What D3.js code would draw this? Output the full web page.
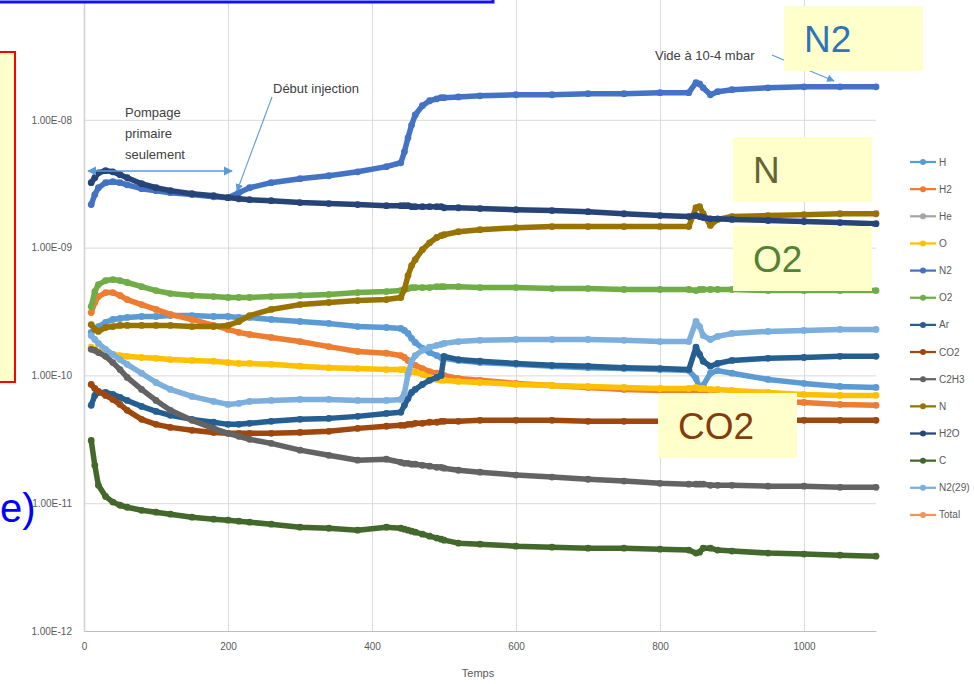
<!DOCTYPE html>
<html>
<head>
<meta charset="utf-8">
<script src="https://cdn.jsdelivr.net/npm/d3@7"></script>
<style>
  html, body { margin: 0; padding: 0; background: #fff; }
  svg { display: block; font-family: "Liberation Sans", Arial, sans-serif; }
</style>
</head>
<body>
<svg id="chart" width="974" height="684"></svg>
<script>
// time axis (s) shared by all series
const temps = [10, 15, 20, 30, 40, 50, 60, 80, 100, 120, 150, 180, 200, 215, 230, 260, 300, 340, 380, 420,
  440, 445, 450, 455, 460, 470, 480, 490, 496, 500, 520, 550, 600, 650, 700, 750, 800, 840, 850, 855,
  860, 870, 880, 900, 950, 1000, 1050, 1100];

const seriesNames = ['H', 'H2', 'He', 'O', 'N2', 'O2', 'Ar', 'CO2', 'C2H3', 'N', 'H2O', 'C', 'N2(29)', 'Total'];
const seriesColors = ['#5B9BD5', '#ED7D31', '#A5A5A5', '#FFC000', '#4472C4', '#70AD47', '#255E91',
  '#9E480E', '#636363', '#997300', '#264478', '#43682B', '#7CAFDD', '#F1975A'];

const H = [2.17e-10, 2.29e-10, 2.41e-10, 2.6e-10, 2.74e-10, 2.79e-10, 2.84e-10, 2.89e-10, 2.89e-10, 2.94e-10,
  2.94e-10, 2.89e-10, 2.89e-10, 2.84e-10, 2.84e-10, 2.74e-10, 2.64e-10, 2.55e-10, 2.41e-10, 2.37e-10,
  2.33e-10, 2.25e-10, 2.13e-10, 1.95e-10, 1.81e-10, 1.63e-10, 1.51e-10, 1.43e-10, 1.38e-10, 1.36e-10,
  1.31e-10, 1.26e-10, 1.22e-10, 1.18e-10, 1.15e-10, 1.13e-10, 1.11e-10, 1.09e-10, 9.47e-11, 7.9e-11,
  8.35e-11, 1.04e-10, 1.09e-10, 1.04e-10, 9.3e-11, 8.66e-11, 8.2e-11, 8.05e-11];
const H2 = [3.1e-10, 3.72e-10, 4.14e-10, 4.45e-10, 4.45e-10, 4.22e-10, 3.92e-10, 3.58e-10, 3.28e-10, 3.0e-10,
  2.74e-10, 2.46e-10, 2.29e-10, 2.17e-10, 2.09e-10, 1.98e-10, 1.84e-10, 1.68e-10, 1.54e-10, 1.49e-10,
  1.43e-10, 1.38e-10, 1.31e-10, 1.24e-10, 1.2e-10, 1.13e-10, 1.07e-10, 1.04e-10, 1.02e-10, 1.0e-10,
  9.47e-11, 9.15e-11, 8.66e-11, 8.35e-11, 8.05e-11, 7.77e-11, 7.63e-11, 7.5e-11, 7.5e-11, 7.36e-11,
  7.23e-11, 7.1e-11, 6.97e-11, 6.73e-11, 6.37e-11, 6.15e-11, 5.93e-11, 5.83e-11];
const He = [];
const O = [1.66e-10, 1.6e-10, 1.54e-10, 1.49e-10, 1.46e-10, 1.43e-10, 1.41e-10, 1.38e-10, 1.36e-10, 1.33e-10,
  1.31e-10, 1.29e-10, 1.26e-10, 1.24e-10, 1.24e-10, 1.22e-10, 1.18e-10, 1.15e-10, 1.13e-10, 1.11e-10,
  1.11e-10, 1.11e-10, 1.09e-10, 1.07e-10, 1.06e-10, 1.02e-10, 9.64e-11, 9.3e-11, 9.15e-11, 9.15e-11,
  8.97e-11, 8.8e-11, 8.5e-11, 8.35e-11, 8.2e-11, 8.05e-11, 7.9e-11, 7.9e-11, 8.05e-11, 7.9e-11,
  7.9e-11, 7.77e-11, 7.77e-11, 7.63e-11, 7.36e-11, 7.1e-11, 6.97e-11, 6.97e-11];
const N2 = [2.17e-9, 2.6e-9, 2.94e-9, 3.22e-9, 3.28e-9, 3.22e-9, 3.1e-9, 2.89e-9, 2.79e-9, 2.69e-9,
  2.6e-9, 2.5e-9, 2.46e-9, 2.69e-9, 2.94e-9, 3.22e-9, 3.46e-9, 3.65e-9, 3.92e-9, 4.3e-9,
  4.61e-9, 5.62e-9, 7.23e-9, 9.1e-9, 1.09e-8, 1.29e-8, 1.41e-8, 1.46e-8, 1.49e-8, 1.49e-8,
  1.51e-8, 1.54e-8, 1.57e-8, 1.57e-8, 1.6e-8, 1.6e-8, 1.63e-8, 1.63e-8, 1.95e-8, 1.91e-8,
  1.78e-8, 1.57e-8, 1.66e-8, 1.72e-8, 1.78e-8, 1.81e-8, 1.81e-8, 1.81e-8];
const O2 = [3.46e-10, 4.53e-10, 5.14e-10, 5.52e-10, 5.62e-10, 5.52e-10, 5.33e-10, 4.95e-10, 4.61e-10, 4.37e-10,
  4.22e-10, 4.14e-10, 4.07e-10, 4.07e-10, 4.07e-10, 4.14e-10, 4.22e-10, 4.3e-10, 4.45e-10, 4.53e-10,
  4.61e-10, 4.7e-10, 4.78e-10, 4.87e-10, 4.87e-10, 4.87e-10, 4.87e-10, 4.95e-10, 4.95e-10, 4.95e-10,
  4.95e-10, 4.87e-10, 4.87e-10, 4.78e-10, 4.78e-10, 4.7e-10, 4.7e-10, 4.7e-10, 4.61e-10, 4.7e-10,
  4.7e-10, 4.7e-10, 4.7e-10, 4.7e-10, 4.61e-10, 4.61e-10, 4.61e-10, 4.61e-10];
const Ar = [5.83e-11, 6.97e-11, 7.36e-11, 7.36e-11, 7.1e-11, 6.73e-11, 6.37e-11, 5.72e-11, 5.23e-11, 4.87e-11,
  4.53e-11, 4.3e-11, 4.14e-11, 4.14e-11, 4.22e-11, 4.37e-11, 4.53e-11, 4.61e-11, 4.78e-11, 5.04e-11,
  5.14e-11, 5.83e-11, 6.6e-11, 7.36e-11, 7.77e-11, 8.5e-11, 9.15e-11, 9.64e-11, 1.0e-10, 1.41e-10,
  1.33e-10, 1.29e-10, 1.24e-10, 1.2e-10, 1.18e-10, 1.15e-10, 1.13e-10, 1.11e-10, 1.66e-10, 1.46e-10,
  1.29e-10, 1.18e-10, 1.24e-10, 1.31e-10, 1.36e-10, 1.38e-10, 1.41e-10, 1.41e-10];
const CO2 = [8.5e-11, 7.9e-11, 7.5e-11, 6.97e-11, 6.49e-11, 5.93e-11, 5.33e-11, 4.53e-11, 4.14e-11, 3.92e-11,
  3.72e-11, 3.58e-11, 3.52e-11, 3.52e-11, 3.52e-11, 3.52e-11, 3.58e-11, 3.65e-11, 3.85e-11, 4.0e-11,
  4.07e-11, 4.07e-11, 4.14e-11, 4.14e-11, 4.22e-11, 4.22e-11, 4.3e-11, 4.3e-11, 4.37e-11, 4.37e-11,
  4.37e-11, 4.45e-11, 4.45e-11, 4.45e-11, 4.37e-11, 4.37e-11, 4.37e-11, 4.37e-11, 4.45e-11, 4.45e-11,
  4.45e-11, 4.45e-11, 4.45e-11, 4.45e-11, 4.45e-11, 4.45e-11, 4.45e-11, 4.45e-11];
const C2H3 = [1.6e-10, 1.57e-10, 1.51e-10, 1.41e-10, 1.26e-10, 1.11e-10, 9.64e-11, 7.77e-11, 6.37e-11, 5.33e-11,
  4.45e-11, 3.85e-11, 3.52e-11, 3.34e-11, 3.16e-11, 2.94e-11, 2.6e-11, 2.37e-11, 2.17e-11, 2.21e-11,
  2.09e-11, 2.05e-11, 2.05e-11, 2.02e-11, 2.02e-11, 1.98e-11, 1.95e-11, 1.91e-11, 1.91e-11, 1.88e-11,
  1.81e-11, 1.75e-11, 1.66e-11, 1.6e-11, 1.54e-11, 1.49e-11, 1.43e-11, 1.41e-11, 1.41e-11, 1.41e-11,
  1.41e-11, 1.38e-11, 1.38e-11, 1.38e-11, 1.36e-11, 1.36e-11, 1.33e-11, 1.33e-11];
const N = [2.5e-10, 2.29e-10, 2.21e-10, 2.37e-10, 2.41e-10, 2.46e-10, 2.46e-10, 2.46e-10, 2.46e-10, 2.46e-10,
  2.41e-10, 2.41e-10, 2.46e-10, 2.64e-10, 2.94e-10, 3.28e-10, 3.58e-10, 3.72e-10, 3.85e-10, 3.92e-10,
  4.07e-10, 4.7e-10, 6.04e-10, 7.23e-10, 8.05e-10, 9.64e-10, 1.09e-9, 1.2e-9, 1.24e-9, 1.26e-9,
  1.33e-9, 1.38e-9, 1.43e-9, 1.46e-9, 1.46e-9, 1.46e-9, 1.46e-9, 1.46e-9, 2.05e-9, 2.09e-9,
  1.84e-9, 1.49e-9, 1.66e-9, 1.75e-9, 1.78e-9, 1.81e-9, 1.84e-9, 1.84e-9];
const H2O = [3.22e-9, 3.52e-9, 3.85e-9, 4.0e-9, 3.92e-9, 3.72e-9, 3.52e-9, 3.16e-9, 2.94e-9, 2.79e-9,
  2.64e-9, 2.55e-9, 2.46e-9, 2.41e-9, 2.37e-9, 2.33e-9, 2.25e-9, 2.21e-9, 2.17e-9, 2.13e-9,
  2.13e-9, 2.13e-9, 2.13e-9, 2.09e-9, 2.09e-9, 2.09e-9, 2.09e-9, 2.09e-9, 2.09e-9, 2.05e-9,
  2.05e-9, 2.02e-9, 1.98e-9, 1.95e-9, 1.91e-9, 1.84e-9, 1.78e-9, 1.75e-9, 1.78e-9, 1.75e-9,
  1.72e-9, 1.68e-9, 1.68e-9, 1.66e-9, 1.63e-9, 1.6e-9, 1.57e-9, 1.54e-9];
const C = [3.1e-11, 1.98e-11, 1.38e-11, 1.13e-11, 1.02e-11, 9.64e-12, 9.3e-12, 8.8e-12, 8.5e-12, 8.2e-12,
  7.77e-12, 7.5e-12, 7.36e-12, 7.23e-12, 7.1e-12, 6.85e-12, 6.49e-12, 6.37e-12, 6.15e-12, 6.49e-12,
  6.37e-12, 6.26e-12, 6.15e-12, 6.04e-12, 5.93e-12, 5.72e-12, 5.52e-12, 5.33e-12, 5.23e-12, 5.14e-12,
  4.87e-12, 4.78e-12, 4.61e-12, 4.53e-12, 4.45e-12, 4.45e-12, 4.37e-12, 4.3e-12, 4.07e-12, 4.14e-12,
  4.45e-12, 4.45e-12, 4.3e-12, 4.22e-12, 4.07e-12, 4.0e-12, 3.92e-12, 3.85e-12];
const N2_29 = [2.05e-10, 1.91e-10, 1.78e-10, 1.6e-10, 1.46e-10, 1.33e-10, 1.22e-10, 1.04e-10, 8.8e-11, 7.77e-11,
  6.85e-11, 6.26e-11, 5.93e-11, 6.04e-11, 6.26e-11, 6.37e-11, 6.49e-11, 6.49e-11, 6.37e-11, 6.37e-11,
  6.49e-11, 7.23e-11, 1.02e-10, 1.29e-10, 1.43e-10, 1.57e-10, 1.66e-10, 1.72e-10, 1.75e-10, 1.78e-10,
  1.84e-10, 1.88e-10, 1.91e-10, 1.91e-10, 1.91e-10, 1.88e-10, 1.84e-10, 1.84e-10, 2.64e-10, 2.41e-10,
  2.05e-10, 1.91e-10, 2.02e-10, 2.13e-10, 2.21e-10, 2.25e-10, 2.29e-10, 2.29e-10];
const Total = [];

const seriesValues = [H, H2, He, O, N2, O2, Ar, CO2, C2H3, N, H2O, C, N2_29, Total];

const xTicks = [0, 200, 400, 600, 800, 1000];
const yTicks = [1e-12, 1e-11, 1e-10, 1e-9, 1e-8];

const calloutLabels = ['N2', 'N', 'O2', 'CO2'];
const calloutColors = ['#2E75B6', '#666633', '#548235', '#843C0C'];

const fontFamily = '"Liberation Sans", Arial, sans-serif';
const axisGrey = '#595959';

const svg = d3.select('#chart');

const x = d3.scaleLinear().domain([0, 1100]).range([84, 876]);
const y = d3.scaleLog().domain([1e-12, 1e-7]).range([631, -8]);

const fmtE = v => {
  const e = Math.round(Math.log10(v));
  return '1.00E' + (e < 0 ? '-' : '+') + String(Math.abs(e)).padStart(2, '0');
};

// gridlines
svg.append('g')
  .attr('transform', 'translate(84,0)')
  .call(d3.axisLeft(y).tickValues(yTicks.concat([1e-7])).tickSize(-(876 - 84)).tickFormat(''))
  .call(g => g.select('.domain').remove())
  .call(g => g.selectAll('line').attr('stroke', '#d9d9d9'));

svg.append('g')
  .attr('transform', 'translate(0,631)')
  .call(d3.axisBottom(x).tickValues(xTicks.slice(1)).tickSize(-640).tickFormat(''))
  .call(g => g.select('.domain').remove())
  .call(g => g.selectAll('line').attr('stroke', '#d9d9d9'));

// axes
svg.append('g')
  .attr('transform', 'translate(0,631)')
  .call(d3.axisBottom(x).tickValues(xTicks).tickFormat(d3.format('d'))
    .tickSize(0).tickSizeOuter(0).tickPadding(12))
  .call(g => g.attr('font-family', fontFamily).attr('font-size', 10))
  .call(g => g.select('.domain').attr('stroke', '#bfbfbf'))
  .call(g => g.selectAll('text').attr('fill', axisGrey));

svg.append('g')
  .attr('transform', 'translate(84,0)')
  .call(d3.axisLeft(y).tickValues(yTicks).tickFormat(fmtE).tickSize(0).tickSizeOuter(0).tickPadding(12))
  .call(g => g.attr('font-family', fontFamily).attr('font-size', 10))
  .call(g => g.select('.domain').attr('stroke', '#d0d0d0').attr('stroke-width', 1.5))
  .call(g => g.selectAll('text').attr('fill', axisGrey));

svg.append('text')
  .attr('x', 478).attr('y', 677)
  .attr('text-anchor', 'middle')
  .attr('font-size', 11).attr('fill', axisGrey)
  .text('Temps');

// series
const line = d3.line()
  .x((d, i) => x(temps[i]))
  .y(d => y(d));

seriesValues.forEach((vals, k) => {
  if (!vals.length) return;
  const g = svg.append('g');
  g.append('path')
    .attr('d', line(vals))
    .attr('fill', 'none')
    .attr('stroke', seriesColors[k])
    .attr('stroke-width', 5.5)
    .attr('stroke-linejoin', 'round')
    .attr('stroke-linecap', 'round');
  g.selectAll('circle')
    .data(vals)
    .join('circle')
    .attr('cx', (d, i) => x(temps[i]))
    .attr('cy', d => y(d))
    .attr('r', 3.4)
    .attr('fill', seriesColors[k]);
});

// legend
const legend = svg.append('g').attr('font-size', 10).attr('fill', axisGrey);
seriesNames.forEach((name, i) => {
  const ly = 162 + i * 27.15;
  legend.append('line')
    .attr('x1', 910).attr('x2', 936).attr('y1', ly).attr('y2', ly)
    .attr('stroke', seriesColors[i]).attr('stroke-width', 2.25);
  legend.append('circle')
    .attr('cx', 923).attr('cy', ly).attr('r', 3)
    .attr('fill', seriesColors[i]);
  legend.append('text')
    .attr('x', 939).attr('y', ly).attr('dy', '0.35em')
    .text(name);
});

// annotations
const defs = svg.append('defs');
defs.append('marker')
  .attr('id', 'arrow')
  .attr('viewBox', '0 0 10 10')
  .attr('refX', 9).attr('refY', 5)
  .attr('markerWidth', 7).attr('markerHeight', 7)
  .attr('orient', 'auto-start-reverse')
  .append('path')
  .attr('d', 'M0,0 L10,5 L0,10 Z')
  .attr('fill', '#5B9BD5');

const note = svg.append('g')
  .attr('font-size', 13).attr('fill', '#404040');

note.append('line')
  .attr('x1', 88).attr('y1', 171).attr('x2', 232).attr('y2', 171)
  .attr('stroke', '#5B9BD5').attr('stroke-width', 1.3)
  .attr('marker-start', 'url(#arrow)').attr('marker-end', 'url(#arrow)');
['Pompage', 'primaire', 'seulement'].forEach((t, i) => {
  note.append('text').attr('x', 125).attr('y', 117 + i * 21).text(t);
});

note.append('line')
  .attr('x1', 272).attr('y1', 97).attr('x2', 237).attr('y2', 191)
  .attr('stroke', '#5B9BD5').attr('stroke-width', 1.1)
  .attr('marker-end', 'url(#arrow)');
note.append('text').attr('x', 273).attr('y', 93).text('Début injection');

note.append('line')
  .attr('x1', 772).attr('y1', 55).attr('x2', 834).attr('y2', 81)
  .attr('stroke', '#5B9BD5').attr('stroke-width', 1.1)
  .attr('marker-end', 'url(#arrow)');
note.append('text').attr('x', 655).attr('y', 60).text('Vide à 10-4 mbar');

// slide overlays
const boxes = [[784, 6], [733, 137], [733, 226], [658, 393]];
calloutLabels.forEach((lab, i) => {
  const [bx, by] = boxes[i];
  svg.append('rect')
    .attr('x', bx).attr('y', by).attr('width', 139).attr('height', 65)
    .attr('fill', '#FFFFCC');
  svg.append('text')
    .attr('x', bx + 20).attr('y', by + 46)
    .attr('font-size', 37)
    .attr('fill', calloutColors[i])
    .text(lab);
});

svg.append('rect')
  .attr('x', -10).attr('y', 52).attr('width', 25).attr('height', 330)
  .attr('fill', '#FFFFCC').attr('stroke', '#ff0000').attr('stroke-width', 2);

svg.append('rect')
  .attr('x', -20).attr('y', -40).attr('width', 513).attr('height', 42)
  .attr('fill', '#fff').attr('stroke', '#1010ff').attr('stroke-width', 3);

svg.append('text')
  .attr('x', 0).attr('y', 522)
  .attr('font-size', 40)
  .attr('fill', '#0000ff')
  .text('e)');
</script>
</body>
</html>
